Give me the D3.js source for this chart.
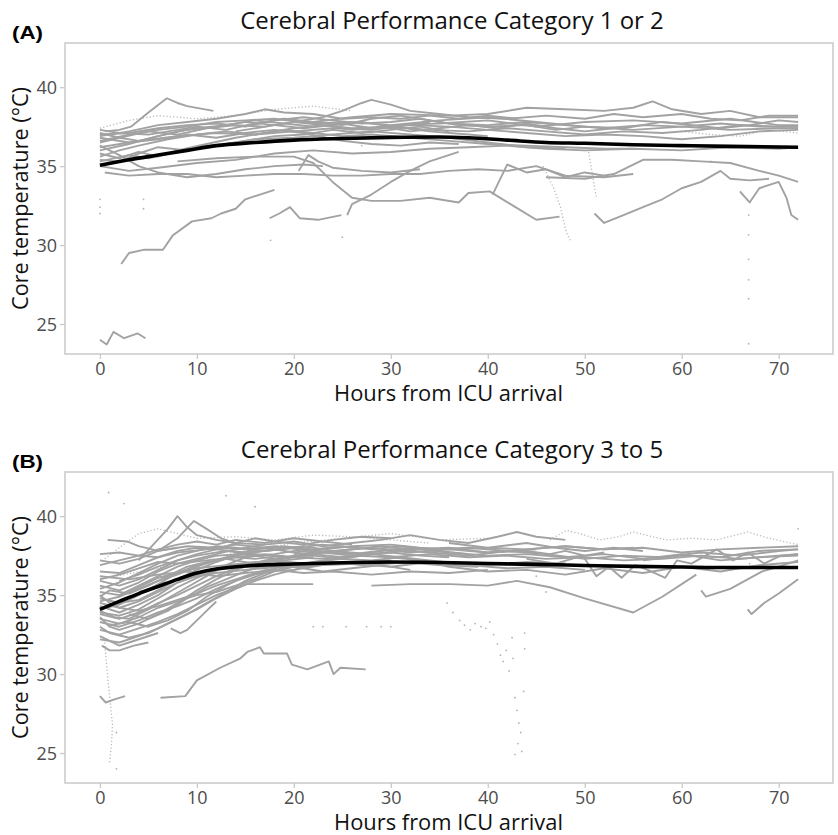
<!DOCTYPE html>
<html>
<head>
<meta charset="utf-8">
<script src="https://cdn.jsdelivr.net/npm/d3@7"></script>
<style>
  body { margin: 0; background: #fff; }
  svg { display: block; font-family: "Open Sans", "Noto Sans", sans-serif; }
</style>
</head>
<body>
<svg id="chart" width="838" height="835"></svg>
<script>
// x ticks / y ticks shared by both panels
var xTicks = [0, 10, 20, 30, 40, 50, 60, 70];
var yTicks = [25, 30, 35, 40];

// ---- panel A : CPC 1 or 2 ----  each trace = [hours, core temp]
var a01 = [[22,37.8],[26,38.1],[30,38.3],[36,38.2],[40,38.3],[44,38.7],[48,38.6],[52,38.5],[55,38.7],[57,39.1],[59,38.6],[62,38.3],[65,38.5],[68,38.1],[72,38.1]];
var a02 = [[0.5,37.2],[2,37.3],[3.2,37.5],[5,38.4],[6.9,39.3],[8,39.0],[9,38.8],[11.7,38.5]];
var a03 = [[14,37.2],[18,37.6],[21,37.9],[23,38.1],[25,38.5],[27,39.0],[28,39.2],[30,38.9],[32,38.5],[35,38.3],[38,38.1],[42,38.0],[46,38.2],[50,38.0],[53,38.3],[56,38.1],[60,38.3],[63,38.0],[66,37.9],[69,38.2],[72,38.2]];
var a04 = [[0,37.0],[3,37.1],[6,37.4],[9,37.6],[12,37.7],[15,37.5],[18,37.9],[21,38.1],[24,37.9],[27,37.7],[30,37.8],[33,38.0],[36,37.7],[40,37.6],[44,37.8],[48,37.6],[52,37.4],[56,37.6],[60,37.5],[64,37.7],[68,37.5],[72,37.5]];
var a05 = [[0,36.5],[2,36.8],[5,37.2],[8,37.0],[11,37.4],[14,37.6],[17,37.5],[20,37.8],[23,37.6],[26,37.4],[30,37.5],[34,37.3],[38,37.2],[42,37.4],[46,37.2],[50,37.0],[54,37.2],[58,37.1],[62,37.3],[66,37.6],[70,37.5],[72,37.5]];
var a06 = [[0,35.6],[2,36.0],[4,36.3],[7,36.7],[10,37.0],[13,37.2],[16,37.0],[19,37.3],[22,37.1],[25,36.9],[28,37.0],[32,36.8],[36,36.6],[40,36.4],[44,36.3],[48,36.2],[52,36.1],[55,36.1]];
var a07 = [[0,36.0],[3,36.4],[6,36.9],[9,37.3],[12,37.5],[15,37.8],[18,37.6],[21,37.4],[24,37.6],[27,37.8],[30,37.5],[34,37.2],[38,37.0],[40,36.9]];
var a08 = [[0,37.3],[2,37.1],[5,37.0],[8,37.3],[10,37.5],[13,37.3],[16,37.7],[19,38.0],[22,37.8],[25,37.6],[28,38.0],[31,38.2],[34,37.9],[37,37.6],[40,37.5],[44,37.6],[47,37.3],[50,37.5],[54,37.4],[58,37.8],[61,37.6],[64,37.4],[67,37.6],[70,37.9],[72,37.8]];
var a09 = [[0,35.4],[2,35.3],[4,35.8],[6,36.2],[9,36.0],[12,36.3],[15,36.6],[18,36.9],[21,37.0],[24,37.3],[27,37.1],[30,37.3],[33,37.5],[36,37.2]];
var a10 = [[0,36.8],[3,36.5],[6,36.7],[9,37.0],[12,36.8],[15,37.1],[18,37.3],[21,37.1],[25,36.6],[28,36.4],[31,36.3],[34,36.5],[37,36.4]];
var a11 = [[0,35.3],[3,35.7],[5,35.5],[8,35.9],[10,36.2],[13,36.4],[16,36.7],[20,36.8],[24,37.0],[28,37.2],[32,37.0],[36,36.8],[40,36.5],[44,36.2],[48,36.1]];
var a12 = [[0.5,34.6],[3,34.4],[6,34.5],[9,34.5],[12,34.3],[15,34.4],[18,34.5],[21,34.5],[24,34.4],[27,34.4],[30,34.5],[33,34.5],[36,34.7],[39,34.8],[42,34.7],[45,35.0],[48,34.4],[52,34.3],[55,34.5]];
var a13 = [[46,34.3],[50,34.2],[53,34.5],[56,35.4],[59,35.4],[62,35.3],[65,35.2],[68,34.7],[70,34.4],[72,34.0]];
var a14 = [[0,36.3],[2,35.7],[4,35.0],[6,34.6],[9,34.3],[12,34.5],[15,34.8],[18,35.0],[21,35.1],[23,35.0]];
var a15 = [[8,35.3],[12,35.5],[16,35.6],[20,35.6],[22,35.2],[24,34.0],[26,33.0],[28,32.8],[31,32.8],[34,33.0],[37,32.7],[38,33.3],[40.2,33.4],[42.6,32.5],[45,31.6],[47.4,31.8]];
var a16 = [[25.5,31.9],[26,32.6],[28,33.2],[30,34.0],[32,34.7],[34,35.3],[37,35.9]];
var a17 = [[40.5,33.2],[42,35.1],[44,34.6],[46,34.8],[48,34.3],[50,34.6],[52,34.4]];
var a18 = [[51,32.0],[52,31.4],[54,31.9],[56,32.4],[58,32.9],[60,33.6],[62,34.0],[64,34.7],[65,34.2],[67,34.1],[69,34.2]];
var a19 = [[66,33.4],[67,32.7],[68,33.6],[70,34.0],[70.8,33.0],[71.3,31.9],[72,31.6]];
var a20 = [[17.5,31.7],[18.5,32.0],[19.6,32.4],[20.6,31.7],[22.5,31.6],[24.9,31.9]];
var a21 = [[2.2,28.8],[3,29.5],[4.5,29.7],[6.5,29.7],[7.5,30.6],[9.5,31.5],[11.5,31.7],[12.5,32.0],[14,32.3],[15,32.9],[16.5,33.2],[18,33.5]];
var a22 = [[0,24.0],[0.7,23.7],[1.4,24.5],[2.5,24.1],[3.9,24.4],[4.7,24.1]];
var a24 = [[30,37.6],[35,37.9],[40,38.1],[45,37.8],[50,37.5],[55,37.3],[60,37.5],[65,37.3],[70,37.4],[72,37.4]];
var a25 = [[0,36.2],[4,36.6],[8,36.9],[12,37.1],[16,37.0],[20,37.2],[24,37.4],[28,37.3],[32,37.6],[36,37.5],[40,37.3],[44,37.1],[48,36.9],[52,37.0],[56,36.9],[60,36.7],[64,36.9],[68,37.2],[72,37.3]];
var a26 = [[0,35.0],[3,34.7],[6,34.9],[10,35.2],[14,35.4],[18,35.8],[22,36.0],[26,35.8],[30,35.9],[34,36.1],[38,36.2],[42,36.3],[46,36.1],[50,36.0],[55,36.1],[60,36.0],[65,36.2],[70,36.1],[72,36.2]];
var a28 = [[0,36.6],[3,37.0],[6,37.3],[9,37.5],[12,37.8],[15,37.9],[18,38.0],[22,37.7],[26,37.8],[30,37.6],[35,37.7],[40,37.9],[45,37.5],[50,37.8],[55,37.9],[60,37.7],[65,38.0],[70,37.6],[72,37.6]];
var a29 = [[20.5,34.7],[21.5,35.7],[22.5,35.3],[24,34.9],[27,34.7],[30,34.6],[33,34.8]];
var a33 = [[0,37.1],[2,36.8],[4,36.6],[6,36.9],[8,37.2],[10,37.4],[13,37.6],[16,37.9],[19,37.7],[22,37.5],[25,37.7],[28,37.4],[31,37.6],[34,37.8]];
var a34 = [[0,35.8],[2,35.5],[4,35.9],[6,35.6],[8,36.0],[11,36.4],[14,36.8],[17,37.1],[20,37.4],[23,37.6],[26,37.3],[29,37.5],[32,37.2],[35,37.4],[38,37.6],[41,37.4],[44,37.7],[47,37.4],[50,37.2],[53,37.4]];
var a35 = [[0,36.9],[3,37.2],[6,37.6],[9,37.8],[12,38.0],[15,38.3],[17,38.6],[19,38.4],[22,38.3],[25,38.0],[28,38.1],[31,38.0],[34,38.2],[37,38.0],[40,38.2],[43,38.0]];
// sparse (dotted) traces in panel A
var a23 = [[0,37.4],[3,37.9],[6,38.2],[10,38.0],[14,38.2],[18,38.6],[22,38.8],[26,38.5]];
var a30 = [[45.7,35.0],[46.8,33.6],[47.5,32.4],[48.1,30.8],[48.6,30.2]];
var a31 = [[50.4,35.9],[50.8,34.4],[51.2,33.0]];
var a32 = [[60,37.2],[63,37.0],[66,36.9],[69,37.3],[72,37.1]];
var scatterA = [[0,32.9],[0,32.4],[0,32.0],[4.5,32.9],[4.5,32.3],[17.6,30.3],[25,30.5],[66.9,31.9],[66.9,30.65],[66.9,29.1],[66.9,27.8],[66.9,26.6],[66.9,23.75],[63,35.3],[27,36.3]];
var meanA = [[0,35.05],[3,35.4],[6,35.7],[9,36.0],[12,36.3],[16,36.5],[20,36.65],[25,36.75],[30,36.82],[35,36.85],[38,36.8],[42,36.65],[46,36.5],[50,36.45],[55,36.35],[60,36.3],[65,36.25],[72,36.2]];

// ---- panel B : CPC 3 to 5 ----
var b01 = [[4,37.2],[5.5,38.2],[7,39.2],[8,40.0],[9,39.3],[10,38.8],[12,38.5],[14,38.3],[17,38.2]];
var b02 = [[6,37.8],[8,38.6],[9.7,39.7],[11,39.2],[12.5,38.6],[14,38.3]];
var b04 = [[0.8,38.5],[2.8,38.4],[4,38.1],[6,37.8],[8,38.0]];
var b05 = [[0,37.2],[2,37.0],[4,37.3],[6,37.8],[9,38.1],[12,38.0],[15,37.9],[18,38.1],[22,37.8],[26,37.6],[30,37.9],[34,37.7],[38,37.5],[42,37.8],[46,37.6],[50,37.3],[54,37.5],[58,37.4],[62,37.7],[66,37.5],[70,37.8],[72,37.9]];
var b06 = [[0,36.5],[2,36.4],[4,36.9],[6,37.4],[8,37.7],[11,37.9],[14,38.2],[17,38.0],[20,37.7],[23,37.9],[26,38.1],[30,38.2],[33,38.0],[36,37.9],[40,38.0],[44,38.3],[47,38.0],[50,37.8],[53,38.0],[56,37.8]];
var b07 = [[0,35.9],[2,35.6],[4,36.0],[6,36.6],[8,37.2],[10,37.5],[13,37.8],[16,37.6],[19,37.4],[22,37.5],[25,37.3],[28,37.6],[31,37.4],[34,37.2],[37,37.0]];
var b08 = [[0,35.2],[2,35.0],[4,35.6],[6,36.2],[8,36.8],[10,37.2],[12,37.5],[15,37.6],[18,37.3],[21,37.5],[24,37.8],[27,37.6],[30,37.7],[33,37.9],[36,37.7],[40,37.5],[44,37.6],[48,37.4],[52,37.6],[56,37.3],[60,37.6],[64,37.2],[68,37.4],[72,37.5]];
var b09 = [[0,34.8],[2,34.5],[4,34.7],[6,35.3],[8,36.0],[10,36.6],[12,37.1],[14,37.5],[17,37.8],[20,38.0],[23,37.7],[26,37.9],[29,38.1],[32,37.9]];
var b10 = [[0,34.3],[2,33.9],[4,34.4],[6,35.0],[8,35.8],[10,36.3],[12,36.7],[15,37.0],[18,37.2],[21,37.0],[24,37.1],[27,36.9],[30,37.0],[33,37.2],[36,37.0],[40,36.9],[44,37.1],[48,37.0]];
var b11 = [[0,33.8],[2,33.5],[4,33.9],[6,34.5],[8,35.0],[10,35.6],[12,36.2],[14,36.7],[17,37.2],[20,37.5],[23,37.7],[26,37.5],[29,37.8],[32,38.0],[35,37.8],[38,37.6]];
var b12 = [[0,33.3],[2,33.0],[4,33.4],[6,33.9],[8,34.3],[10,34.8],[12,35.4],[14,35.9],[16,36.3],[19,36.7],[22,37.1],[25,37.3],[28,37.2],[31,37.4]];
var b13 = [[0,32.8],[2,32.5],[4,32.9],[6,33.3],[8,33.8],[10,34.4],[12,35.0],[15,35.7],[19,35.7],[22,35.7]];
var b14 = [[0,35.6],[2,35.3],[4,35.8],[6,36.5],[8,37.0],[10,37.3],[12,37.6],[14,37.9],[17,38.2],[20,38.4],[23,38.1],[26,38.3],[29,38.5],[32,38.8],[35,38.5],[38,38.3],[41,38.7],[43,39.0],[45,38.7],[48,38.5]];
var b15 = [[0,34.0],[1.5,33.6],[3,33.5],[5,34.1],[7,34.8],[9,35.5],[11,36.2],[13,36.9],[15,37.4],[18,37.6],[21,37.9],[24,37.7]];
var b16 = [[0,33.0],[1,32.6],[3,32.3],[5,32.6],[7,33.2],[9,33.8],[11,34.5],[13,35.2],[15,35.9],[17,36.4],[20,36.8],[23,36.5],[26,36.7],[29,36.9],[32,36.6]];
var b17 = [[0,34.6],[2,34.9],[4,35.5],[6,36.1],[8,36.4],[10,36.7],[13,36.9],[16,37.1],[19,36.8],[22,36.9],[26,37.0],[30,36.8],[34,37.1],[38,36.9],[42,36.7],[46,36.8],[50,36.6]];
var b18 = [[0,36.9],[2,37.2],[4,37.5],[6,37.4],[8,37.8],[10,38.0],[12,37.9],[15,37.7],[18,37.9],[21,38.1],[24,37.8],[28,37.6],[32,37.9],[36,38.0],[40,37.7],[44,37.9],[48,38.1],[52,37.9],[56,38.0],[60,37.7],[64,37.9],[68,38.0],[72,38.1]];
var b19 = [[0,32.4],[1,32.1],[2,31.8],[3,32.0],[4.5,32.3],[6,32.6]];
var b20 = [[0.2,31.8],[1,31.5],[2,31.5],[3.5,31.8],[5,32.0]];
var b21 = [[0,28.6],[0.6,28.2],[1.5,28.4],[2.6,28.6]];
var b22 = [[6.25,28.5],[8.8,28.6],[10,29.6],[12.4,30.4],[14.5,31.0],[15.2,31.4],[16.5,31.7],[16.9,31.3],[19.3,31.3],[19.8,30.6],[21.4,30.3],[23.6,30.8],[24.1,30.0],[24.8,30.4],[27.4,30.3]];
var b23 = [[7.3,32.9],[8.3,32.6],[9,32.8],[10,33.4],[11,34.0],[12,34.6]];
var b24 = [[0,36.2],[3,36.0],[6,36.3],[9,36.5],[12,36.2],[15,36.4],[18,36.6]];
var b27 = [[0,35.0],[1,34.5],[2,34.2],[4,34.6],[6,35.2],[8,35.8],[10,36.2],[12,36.4],[15,36.6],[18,36.8],[22,36.9],[26,37.1],[30,37.2]];
var b28 = [[0,33.5],[2,33.2],[4,33.6],[6,34.2],[8,34.6],[10,35.0],[12,35.2],[14,35.6],[16,36.0],[18,36.5],[20,36.9]];
var b29 = [[2,35.9],[4,36.3],[6,36.8],[8,37.2],[10,37.6],[12,37.9],[14,38.3],[16,38.6],[18,38.4],[21,38.2],[24,38.5],[27,38.7],[30,38.6]];
var b30 = [[0,34.1],[2,34.4],[4,35.0],[6,35.7],[8,36.4],[10,36.9],[12,37.2],[14,37.4],[16,37.3],[19,37.5]];
var b31 = [[20,37.6],[24,37.8],[28,38.0],[32,37.7],[36,37.9],[40,37.7],[44,37.8],[46.4,37.6],[48,37.8],[50,37.5],[52,37.7]];
var b32 = [[44,37.3],[47,37.0],[49.8,37.5],[51.2,36.2],[52.5,36.8],[53.8,36.1],[55.2,36.9],[56.5,36.6],[58.3,36.1],[59.5,37.2],[61,37.0],[63.6,37.9],[65.3,37.2],[66.8,37.7],[68.5,37.0],[70.2,37.5],[72,37.6]];
var b34 = [[28,35.6],[32,35.7],[36.1,35.7],[40,35.6],[43,35.9],[46.4,35.5],[50,34.8],[55,33.9],[58,34.9],[61.5,36.3]];
var b35 = [[62,35.3],[62.5,34.9],[65,35.4],[68.3,36.5],[70,36.8],[72,37.2]];
var b36 = [[66.8,34.1],[67.2,33.8],[68.5,34.5],[70,35.1],[72,36.0]];
var b37 = [[30,37.4],[33,37.2],[36,36.8],[40,36.5],[44,36.6],[48,36.3],[52,36.7],[56,36.4],[60,36.8],[64,36.5],[68,36.9],[72,37.1]];
var b38 = [[36,38.3],[40,38.0],[44,37.9],[48,38.1],[52,37.9],[55,38.0]];
var b39 = [[56,37.2],[60,37.5],[64,37.4],[68,37.8],[72,37.9]];
var b42 = [[0,33.6],[1,33.0],[2,32.8],[4,33.2],[6,33.8],[8,34.5],[10,35.3],[12,36.0],[14,36.6],[16,37.0],[19,37.3],[22,37.6],[25,37.4]];
var b43 = [[0,34.5],[2,34.2],[4,34.0],[6,34.3],[8,34.7],[10,35.1],[12,35.6],[14,36.0],[16,36.4],[18,36.7],[21,37.0],[24,37.3],[27,37.5],[30,37.7],[33,37.5],[36,37.4]];
var b44 = [[0,35.4],[2,35.8],[4,36.4],[6,37.0],[8,37.5],[10,37.8],[12,38.1],[14,38.0],[17,37.8],[20,38.0],[23,38.2],[26,38.0]];
var b45 = [[1,33.1],[3,33.3],[5,33.0],[7,33.4],[9,34.0],[11,34.9],[13,35.6],[15,36.2],[17,36.5],[20,36.6],[23,36.9],[27,37.0],[31,37.1],[35,36.9],[39,36.8]];
var b46 = [[0,37.6],[2,37.7],[4,37.5],[6,37.9],[8,38.2],[10,38.4],[12,38.2],[14,38.5],[17,38.3],[20,38.6],[23,38.4],[26,38.2]];
var b47 = [[0,32.2],[2,32.0],[4,32.4],[6,32.9],[8,33.5],[10,34.1],[12,34.8],[14,35.4],[16,35.9],[18,36.3],[20,36.6],[22,36.9]];
var b48 = [[2,34.9],[4,35.4],[6,35.9],[8,36.3],[10,36.8],[12,37.2],[14,37.6],[16,37.9],[19,38.1],[22,37.9],[25,38.1],[28,37.9],[31,38.1],[34,37.9],[38,38.0],[42,37.8],[45,37.9]];
var b49 = [[0,33.9],[2,33.7],[4,34.1],[6,34.8],[8,35.5],[10,36.1],[12,36.6],[15,36.8],[18,36.6],[21,36.4],[24,36.5],[28,36.3],[32,36.5],[36,36.4],[40,36.6]];
var b50 = [[0,36.0],[2,36.3],[4,36.7],[6,37.1],[8,37.0],[11,37.2],[14,37.4],[17,37.6],[20,37.4],[23,37.3],[26,37.5],[30,37.4],[34,37.6],[38,37.4],[42,37.5],[46,37.3],[50,37.4],[54,37.2],[58,37.3],[62,37.5],[66,37.3],[70,37.5],[72,37.6]];
var b51 = [[0,34.9],[1,35.3],[3,35.1],[5,35.6],[7,36.2],[9,36.8],[11,37.1],[13,37.3],[16,37.0],[19,37.2],[22,37.4]];
var b52 = [[3,33.8],[5,33.5],[7,34.0],[9,34.8],[11,35.5],[13,36.0],[15,36.5],[17,36.9],[19,37.1],[21,36.8],[23,37.0]];
// sparse (dotted) traces in panel B
var b03 = [[0.5,37.3],[2,38.0],[4,38.9],[6,39.2],[8,38.9],[10,38.6],[14,38.7],[18,38.5],[22,38.8],[26,38.7],[30,38.5],[34,38.3]];
var b33 = [[46.4,38.5],[48.1,39.1],[49.5,38.9],[51.5,38.5],[53.5,38.7],[55,39.0],[57,38.7],[58.4,38.5],[61,38.6],[63.6,38.5],[66.8,39.0],[69,38.6],[72,38.2]];
var b40 = [[0,36.0],[5,36.6],[10,37.2],[15,37.8],[20,38.3],[25,38.6],[30,38.9],[35,38.5],[40,38.6]];
var b41 = [[0.5,32.0],[0.7,30.5],[0.9,29.2],[1.1,28.0],[1.3,26.8],[1.2,25.6],[1.0,24.4]];
var scatterB = [[0.9,41.5],[2.5,40.8],[13,41.3],[16,40.6],[22,33.0],[23,33.0],[25.4,33.0],[27.5,33.0],[29,33.0],[30,33.0],[1.7,26.3],[1.7,24.0],
  [35.8,34.5],[36.4,33.9],[37.1,33.4],[37.6,33.1],[38.2,32.8],[38.7,33.2],[39.3,33.0],[39.8,32.9],[40.2,33.3],[40.6,32.5],[41.0,31.9],[41.3,31.2],[41.6,30.8],[41.9,31.5],[42.2,30.2],[42.5,32.3],[42.6,31.0],
  [42.8,28.5],[43.0,27.7],[43.2,26.9],[43.4,26.3],[43.1,25.6],[43.5,25.1],[42.8,24.9],[43.7,28.9],[43.8,31.6],[43.8,32.6],[46,35.2],[45,36.2],[67,37.0],[72,39.2]];
var meanB = [[0,34.1],[2,34.6],[4,35.1],[6,35.55],[8,36.0],[10,36.4],[12,36.65],[15,36.85],[20,36.97],[25,37.05],[30,37.1],[35,37.07],[40,37.0],[45,36.95],[50,36.88],[55,36.82],[60,36.78],[65,36.75],[72,36.75]];

var tracesA = [a01,a02,a03,a04,a05,a06,a07,a08,a09,a10,a11,a12,a13,a14,a15,a16,a17,a18,a19,a20,a21,a22,a24,a25,a26,a28,a29,a33,a34,a35];
var dottedA = [a23,a30,a31,a32];
var tracesB = [b01,b02,b04,b05,b06,b07,b08,b09,b10,b11,b12,b13,b14,b15,b16,b17,b18,b19,b20,b21,b22,b23,b24,b27,b28,b29,b30,b31,b32,b34,b35,b36,b37,b38,b39,
               b42,b43,b44,b45,b46,b47,b48,b49,b50,b51,b52];
var dottedB = [b03,b33,b40,b41];

var svg = d3.select("#chart");
var left = 65, right = 833;
var grey = "#a2a2a2";

var x = d3.scaleLinear().domain([-3.6, 75.6]).range([left, right]);

function drawPanel(top, opt) {
    var bottom = top + 311;
    var y = d3.scaleLinear().domain([23.1, 42.8]).range([bottom, top]);
    var g = svg.append("g");
    var clipId = "clip" + opt.key;

    g.append("clipPath").attr("id", clipId)
      .append("rect").attr("x", left).attr("y", top).attr("width", right - left).attr("height", bottom - top);

    var line = d3.line().x(function (d) { return x(d[0]); }).y(function (d) { return y(d[1]); });
    var plot = g.append("g").attr("clip-path", "url(#" + clipId + ")");

    plot.selectAll(".pt").data(opt.scatter).enter()
        .append("circle")
        .attr("cx", function (d) { return x(d[0]); })
        .attr("cy", function (d) { return y(d[1]); })
        .attr("r", 0.9)
        .style("fill", "#b4b4b4");

    plot.selectAll(".dotted").data(opt.dotted).enter()
        .append("path")
        .attr("d", line)
        .attr("fill", "none")
        .attr("stroke", "#b8b8b8")
        .attr("stroke-width", 1.3)
        .attr("stroke-dasharray", "1.2,2.2");

    plot.selectAll(".trace").data(opt.traces).enter()
        .append("path")
        .attr("d", line)
        .attr("fill", "none")
        .attr("stroke", grey)
        .attr("stroke-width", 1.9)
        .attr("stroke-linejoin", "round");

    // smoothed mean
    plot.append("path")
        .datum(opt.mean)
        .attr("d", d3.line().curve(d3.curveMonotoneX).x(function (d) { return x(d[0]); }).y(function (d) { return y(d[1]); }))
        .attr("fill", "none")
        .attr("stroke", "#000")
        .attr("stroke-width", 3.6);

    // frame
    g.append("rect")
        .attr("x", left).attr("y", top).attr("width", right - left).attr("height", bottom - top)
        .attr("fill", "none").attr("stroke", "#c9c9c9").attr("stroke-width", 1.5);

    // axes
    var xa = g.append("g").attr("transform", "translate(0," + bottom + ")")
        .call(d3.axisBottom(x).tickValues(xTicks).tickSize(5).tickPadding(3));
    var ya = g.append("g").attr("transform", "translate(" + left + ",0)")
        .call(d3.axisLeft(y).tickValues(yTicks).tickSize(5).tickPadding(3));
    [xa, ya].forEach(function (a) {
        a.select(".domain").remove();
        a.selectAll(".tick line").attr("stroke", "#c9c9c9").attr("stroke-width", 1.3);
        a.selectAll(".tick text").attr("fill", "#4d4d4d").style("font-size", "18px")
          .style("font-family", "'Open Sans', sans-serif");
    });
    xa.selectAll(".tick text").attr("dy", "0.72em");
    ya.selectAll(".tick text").attr("dy", "0.35em");

    g.append("text")
        .attr("x", 448.5).attr("y", bottom + 47)
        .attr("text-anchor", "middle").style("font-size", "21px").attr("fill", "#111")
        .attr("textLength", 229).attr("lengthAdjust", "spacingAndGlyphs")
        .text("Hours from ICU arrival");

    g.append("text")
        .attr("transform", "translate(28," + ((top + bottom) / 2) + ") rotate(-90)")
        .attr("text-anchor", "middle").style("font-size", "21px").attr("fill", "#111")
        .attr("textLength", 223).attr("lengthAdjust", "spacingAndGlyphs")
        .text("Core temperature (°C)");

    g.append("text")
        .attr("x", 452).attr("y", top - 14)
        .attr("text-anchor", "middle").style("font-size", "24px").attr("fill", "#111")
        .text(opt.title);

    g.append("text")
        .attr("x", 12).attr("y", top - 4)
        .style("font-size", "18px").style("font-weight", "bold")
        .style("font-family", "'Liberation Sans', Arial, sans-serif").attr("fill", "#000")
        .attr("textLength", 31).attr("lengthAdjust", "spacingAndGlyphs")
        .text(opt.tag);
}

drawPanel(43, { key: "A", tag: "(A)", title: "Cerebral Performance Category 1 or 2",
    traces: tracesA, dotted: dottedA, scatter: scatterA, mean: meanA });
drawPanel(472, { key: "B", tag: "(B)", title: "Cerebral Performance Category 3 to 5",
    traces: tracesB, dotted: dottedB, scatter: scatterB, mean: meanB });
</script>
</body>
</html>
